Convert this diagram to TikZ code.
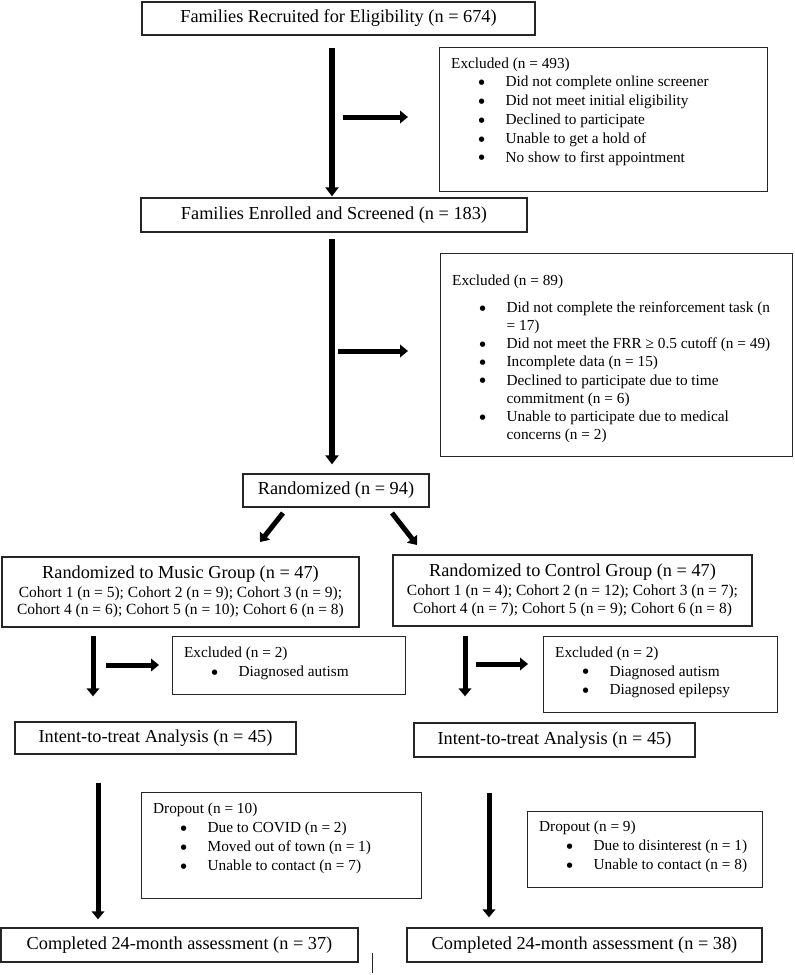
\documentclass[tikz,border=0pt]{standalone}
\usepackage{fontspec}
\setmainfont{Liberation Serif}
\newfontfamily\dvfont{DejaVu Sans}
\usetikzlibrary{arrows.meta}
\tikzset{
  box/.style={draw=black!85, line width=1.3pt, inner sep=0pt, align=center,
    font=\fontsize{18.3}{21}\selectfont},
  grpbox/.style={box, font=\fontsize{15.5}{17.5}\selectfont},
  listbox/.style={draw=black!85, line width=1.3pt, inner sep=0pt, anchor=north west},
  arr/.style={line width=5.5pt, -{Triangle[width=13pt,length=9pt]}},
  sarr/.style={line width=5pt, -{Triangle[width=12.5pt,length=8pt]}},
}
\newcommand\bigdot{\makebox[0pt]{\raisebox{2.2pt}{\dvfont\fontsize{7}{8}\selectfont ●}}}
\newcommand\bitem[1]{\par\hspace*{42pt}\makebox[24pt][l]{\bigdot}#1}
\newcommand\bcont[1]{\par\hspace*{66pt}#1}
\newcommand\lhead[2]{\hspace*{11.5pt}\rule{0pt}{#1}#2}
\newcommand\xlist[4]{\begin{minipage}[c][#2][t]{#1}\fontsize{15.3}{#3}\selectfont
  \setlength\parindent{0pt}\setlength\parskip{0pt}#4\end{minipage}}
\newcommand\bigsz{\fontsize{18.3}{21}\selectfont}
\begin{document}
\begin{tikzpicture}[x=1pt, y=-1pt]
\useasboundingbox (0,0) rectangle (795,975);
\fill[white] (0,0) rectangle (795,975);

% main column
\node[box, minimum width=393pt, minimum height=33pt] (rec) at (338.5,18.5)
  {Families Recruited for Eligibility (n = 674)};
\node[box, minimum width=386pt, minimum height=34pt] (enr) at (334,215)
  {Families Enrolled and Screened (n = 183)};
\node[box, minimum width=186pt, minimum height=33pt] (rand) at (336,490.5)
  {Randomized (n = 94)};

\node[listbox] (ex1) at (439,47) {\xlist{328pt}{144pt}{18.8pt}{%
  \lhead{20.5pt}{Excluded (n = 493)}
  \bitem{Did not complete online screener}
  \bitem{Did not meet initial eligibility}
  \bitem{Declined to participate}
  \bitem{Unable to get a hold of}
  \bitem{No show to first appointment}}};

\node[listbox] (ex2) at (440,253) {\xlist{352pt}{203pt}{18.1pt}{%
  \lhead{32pt}{Excluded (n = 89)}\par\vspace{8.9pt}
  \bitem{Did not complete the reinforcement task (n}
  \bcont{= 17)}
  \bitem{Did not meet the FRR ≥ 0.5 cutoff (n = 49)}
  \bitem{Incomplete data (n = 15)}
  \bitem{Declined to participate due to time}
  \bcont{commitment (n = 6)}
  \bitem{Unable to participate due to medical}
  \bcont{concerns (n = 2)}}};

% groups
\node[grpbox, minimum width=357pt, minimum height=70pt] (music) at (180.5,592)
  {{\bigsz Randomized to Music Group (n = 47)}\\[1.5pt]
   Cohort 1 (n = 5); Cohort 2 (n = 9); Cohort 3 (n = 9);\\
   Cohort 4 (n = 6); Cohort 5 (n = 10); Cohort 6 (n = 8)};
\node[grpbox, minimum width=359pt, minimum height=71pt] (ctrl) at (572.5,590.5)
  {{\bigsz Randomized to Control Group (n = 47)}\\[1.5pt]
   Cohort 1 (n = 4); Cohort 2 (n = 12); Cohort 3 (n = 7);\\
   Cohort 4 (n = 7); Cohort 5 (n = 9); Cohort 6 (n = 8)};

\node[listbox] (exM) at (172,636) {\xlist{233pt}{58pt}{19pt}{%
  \lhead{21pt}{Excluded (n = 2)}
  \bitem{Diagnosed autism}}};
\node[listbox] (exC) at (543,636) {\xlist{234pt}{76pt}{18.5pt}{%
  \lhead{21pt}{Excluded (n = 2)}
  \bitem{Diagnosed autism}
  \bitem{Diagnosed epilepsy}}};

\node[box, minimum width=281pt, minimum height=32pt] (intM) at (155.5,738)
  {Intent-to-treat Analysis (n = 45)};
\node[box, minimum width=281pt, minimum height=34pt] (intC) at (554.5,740)
  {Intent-to-treat Analysis (n = 45)};

\node[listbox] (drM) at (141,792) {\xlist{280pt}{106pt}{19pt}{%
  \lhead{21pt}{Dropout (n = 10)}
  \bitem{Due to COVID (n = 2)}
  \bitem{Moved out of town (n = 1)}
  \bitem{Unable to contact (n = 7)}}};
\node[listbox] (drC) at (527,811) {\xlist{235pt}{76pt}{19pt}{%
  \lhead{20pt}{Dropout (n = 9)}
  \bitem{Due to disinterest (n = 1)}
  \bitem{Unable to contact (n = 8)}}};

\node[box, minimum width=357pt, minimum height=34pt] (compM) at (179.5,945)
  {Completed 24-month assessment (n = 37)};
\node[box, minimum width=355pt, minimum height=34pt] (compC) at (584.5,945)
  {Completed 24-month assessment (n = 38)};

% connectors
\coordinate (c1) at (332,0);
\coordinate (s1) at (332,117);
\coordinate (s2) at (332,351);
\draw[arr, shorten <=12pt, shorten >=1pt] (rec.south -| c1) -- (enr.north -| c1);
\draw[sarr, shorten <=11pt, shorten >=31pt] (s1) -- (ex1.west |- s1);
\draw[arr, shorten <=6pt, shorten >=9pt] (enr.south -| c1) -- (rand.north -| c1);
\draw[sarr, shorten <=6pt, shorten >=32pt] (s2) -- (ex2.west |- s2);

\coordinate (dla) at (283,513);
\coordinate (dlb) at (260,542);
\coordinate (dra) at (392,513);
\coordinate (drb) at (417,545);
\draw[sarr] (dla) -- (dlb);
\draw[sarr] (dra) -- (drb);

\coordinate (cm) at (93,0);
\coordinate (sm) at (93,665);
\draw[sarr, shorten <=8pt, shorten >=25pt] (music.south -| cm) -- (intM.north -| cm);
\draw[sarr, shorten <=13pt, shorten >=13pt] (sm) -- (exM.west |- sm);
\coordinate (cc) at (465,0);
\coordinate (sc) at (465,664);
\draw[sarr, shorten <=9pt, shorten >=26pt] (ctrl.south -| cc) -- (intC.north -| cc);
\draw[sarr, shorten <=11pt, shorten >=15pt] (sc) -- (exC.west |- sc);

\coordinate (cm3) at (98,0);
\coordinate (cc3) at (489,0);
\draw[sarr, shorten <=28pt, shorten >=8pt] (intM.south -| cm3) -- (compM.north -| cm3);
\draw[sarr, shorten <=35pt, shorten >=10pt] (intC.south -| cc3) -- (compC.north -| cc3);

% stray mark
\draw[line width=1pt, black!85] (372,953) -- (372,973);
\end{tikzpicture}
\end{document}
